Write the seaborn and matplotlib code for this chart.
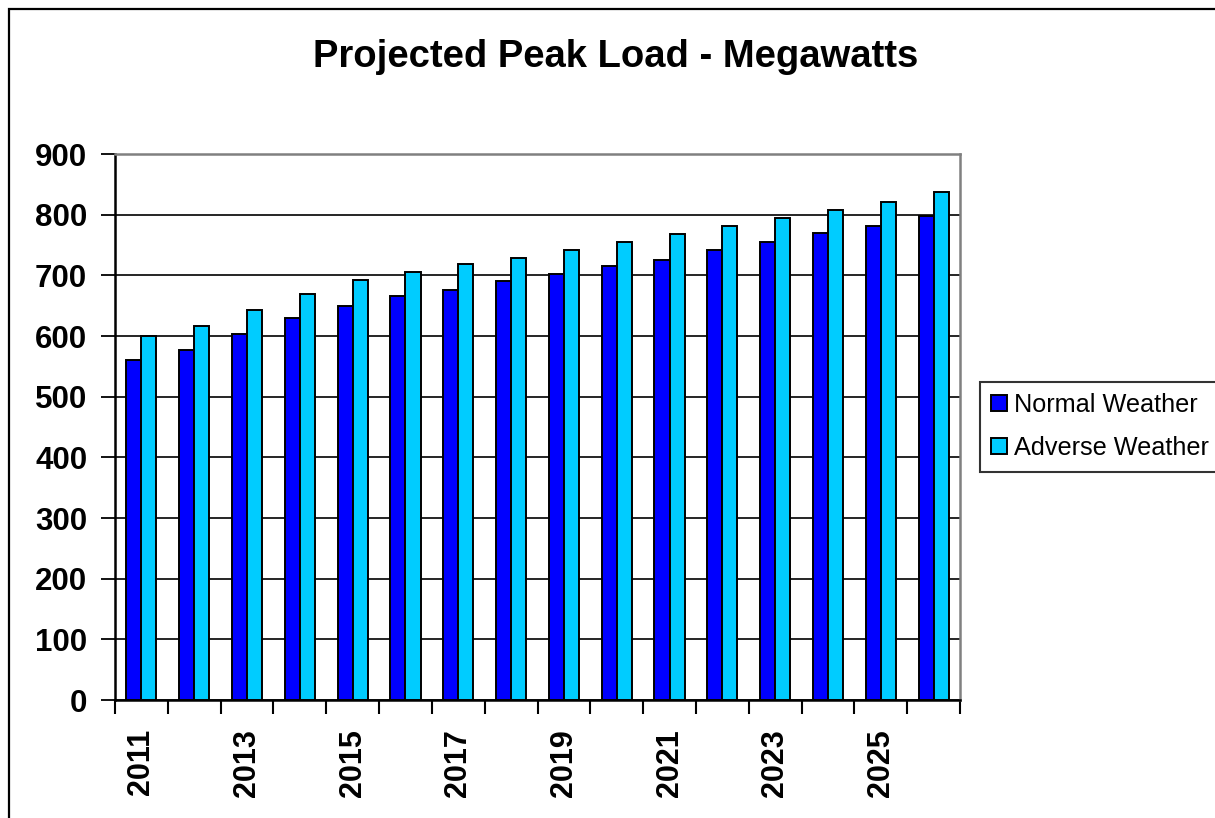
import matplotlib
matplotlib.use("Agg")
import matplotlib.pyplot as plt
from matplotlib.patches import Patch, Rectangle
import seaborn as sns
import pandas as pd
import numpy as np

years = [str(y) for y in range(2011, 2027)]
normal = [560, 577, 604, 630, 649, 666, 676, 690, 703, 716, 725, 742, 755, 769, 781, 798]
adverse = [600, 616, 643, 669, 692, 705, 719, 729, 742, 755, 768, 781, 795, 808, 821, 837]
series_names = ["Normal Weather", "Adverse Weather"]
colors = ["#0000FF", "#00CCFF"]
yticks = [0, 100, 200, 300, 400, 500, 600, 700, 800, 900]
title = "Projected Peak Load - Megawatts"

df = pd.DataFrame({
    "Year": years * 2,
    "MW": normal + adverse,
    "Series": [series_names[0]] * len(years) + [series_names[1]] * len(years),
})

sns.set_style("white")
plt.rcParams["font.family"] = ["Liberation Sans", "DejaVu Sans"]
plt.rcParams["text.color"] = "black"
plt.rcParams["xtick.color"] = "black"
plt.rcParams["ytick.color"] = "black"
plt.rcParams["axes.labelcolor"] = "black"

fig = plt.figure(figsize=(12.15, 8.18), dpi=100)
ax = fig.add_axes([115 / 1215, 118 / 818, 845 / 1215, 546 / 818])

sns.barplot(data=df, x="Year", y="MW", hue="Series", order=years,
            hue_order=series_names, palette=colors, width=0.57,
            edgecolor="black", linewidth=1.4, saturation=1, ax=ax,
            legend=False, zorder=3)

ax.set_xlim(-0.5, len(years) - 0.5)
ax.set_ylim(0, 900)
ax.set_xlabel("")
ax.set_ylabel("")

# horizontal grid
ax.set_yticks(yticks)
ax.set_yticklabels([str(v) for v in yticks], fontsize=22.5, fontweight="bold",
                   color="black")
ax.yaxis.grid(True, color="black", linewidth=1.2, zorder=0)
ax.set_axisbelow(True)
ax.tick_params(axis="y", direction="out", length=10, width=1.3, color="black",
               pad=10, left=True, labelcolor="black")

# x ticks at boundaries, labels at centers of every other category
ax.set_xticks(np.arange(-0.5, len(years), 1.0))
ax.set_xticklabels([])
ax.tick_params(axis="x", which="major", direction="out", length=10, width=1.5,
               color="black", bottom=True)
ax.set_xticks(np.arange(0, len(years), 2), minor=True)
ax.set_xticklabels(years[::2], minor=True, rotation=90, fontsize=22,
                   fontweight="bold", color="black")
ax.tick_params(axis="x", which="minor", length=0, pad=21)

for side in ["left", "bottom"]:
    ax.spines[side].set_color("black")
    ax.spines[side].set_linewidth(1.8)
for side in ["top", "right"]:
    ax.spines[side].set_visible(True)
    ax.spines[side].set_color("#808080")
    ax.spines[side].set_linewidth(1.8)

fig.text(0.507, 1 - 57 / 818, title, ha="center", va="center",
         fontsize=27.5, fontweight="bold", color="black")

handles = [Patch(facecolor=c, edgecolor="black", linewidth=1.4) for c in colors]
leg = fig.legend(handles, series_names, loc="upper left",
                 bbox_to_anchor=(980 / 1215, 1 - 382 / 818),
                 bbox_transform=fig.transFigure, fontsize=18.2,
                 handlelength=0.6, handleheight=0.6, handletextpad=0.3,
                 borderaxespad=0, borderpad=0.45, labelspacing=0.75,
                 fancybox=False, frameon=True)
leg.get_frame().set_edgecolor("black")
leg.get_frame().set_linewidth(1.5)
for t in leg.get_texts():
    t.set_color("black")

# outer chart border (only left/top visible in the reference)
fig.patches.append(Rectangle((8.5 / 1215, -0.1), 1.5, 0.1 + 1 - 9 / 818,
                             transform=fig.transFigure, fill=False,
                             edgecolor="black", linewidth=1.6))

fig.savefig("out.png", dpi=100)
